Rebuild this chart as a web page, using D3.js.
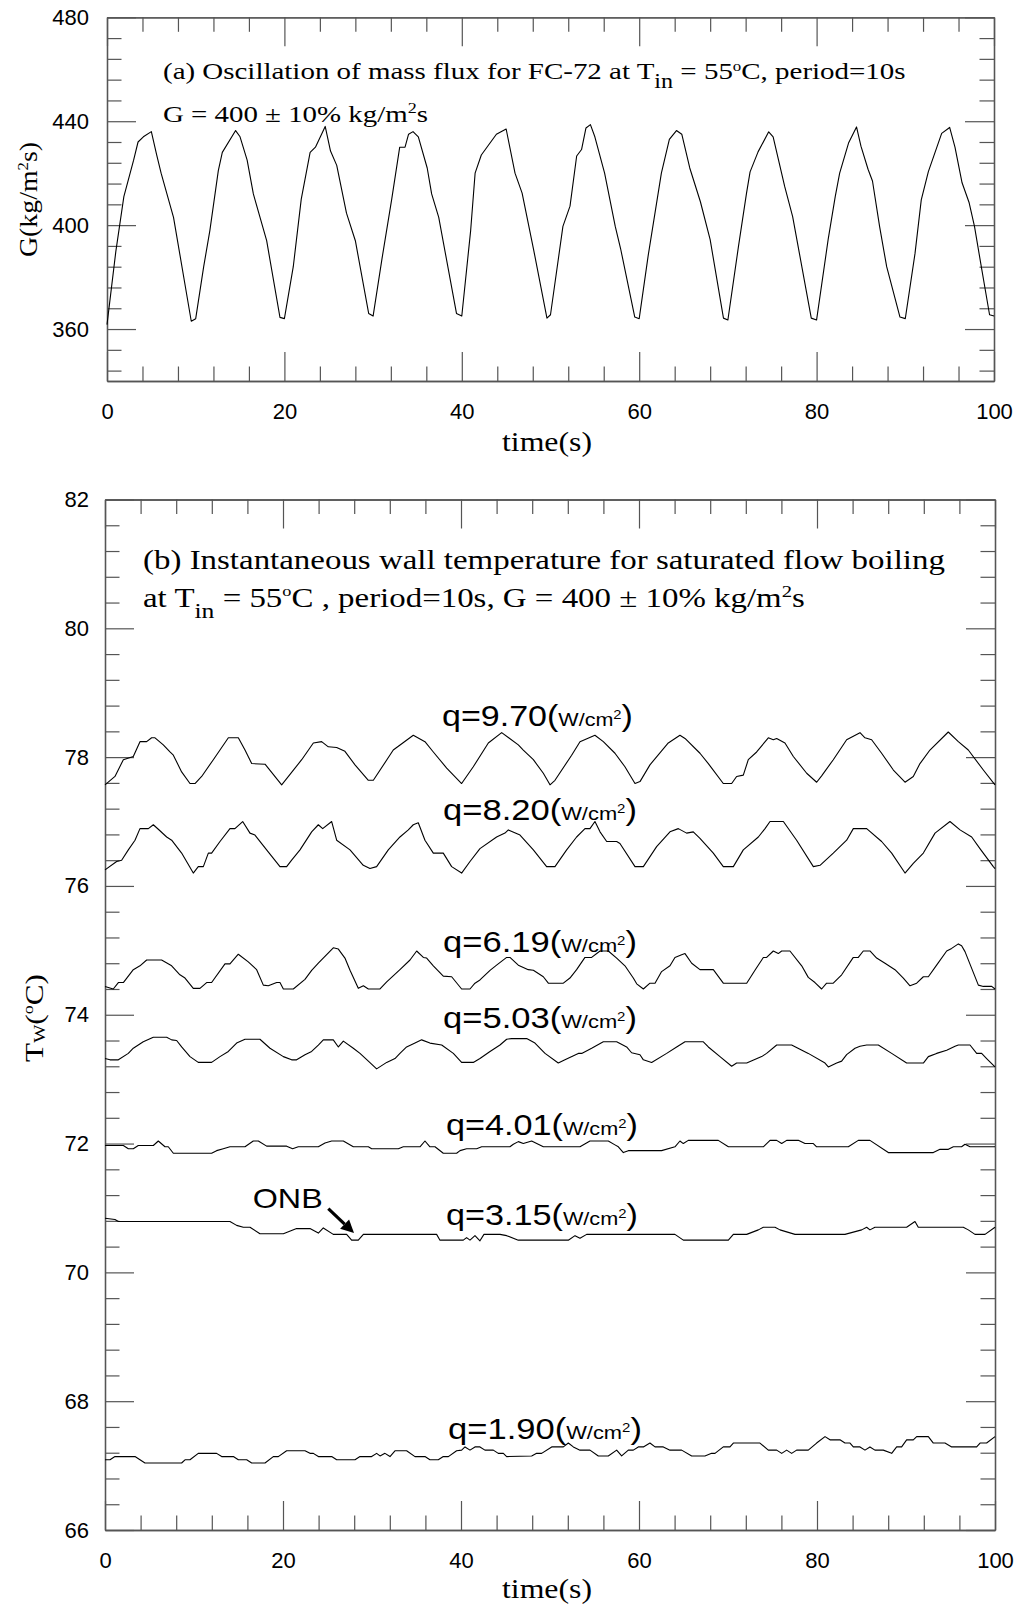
<!DOCTYPE html>
<html><head><meta charset="utf-8">
<script src="https://cdn.jsdelivr.net/npm/d3@7"></script>
<style>
html,body{margin:0;padding:0;background:#fff;}
svg{display:block;}
text{white-space:pre;}
</style></head><body>
<svg id="chart" width="1019" height="1607"></svg>
<script>
// ---------- tick values ----------
const timeTicks = [0, 20, 40, 60, 80, 100];
const gTicks = [360, 400, 440, 480];
const twTicks = [66, 68, 70, 72, 74, 76, 78, 80, 82];

// ---------- (a) mass flux G (kg/m2s) vs time (s) ----------
const massFlux = [
[0,361.7],[1.0,390],[1.9,411],[3.0,425],[3.5,432],[4.1,434],[5.0,436],[5.6,427],[6.1,420],[7.5,403],[9.5,363],[10.0,364],
[10.9,384],[11.6,398],[12.55,421],[13.0,428],[14.5,436.4],[15.0,434],[15.8,425],[16.5,412],[18.0,394],[19.5,364.5],[20.0,364],
[21.0,384],[21.9,410],[22.9,428],[23.5,430],[24.6,438],[25.2,428.5],[25.9,423],[27.0,404.6],[28.0,394],[29.5,366],[30.0,365],
[31.0,387],[32.1,410],[33.0,430],[33.6,430],[34.0,435],[34.5,436],[35.1,434],[36.1,422],[36.6,412],[37.4,403],[39.4,366],[40.0,365],
[41.0,398],[41.5,420],[42.2,427],[43.9,435],[45.0,437],[46.0,420],[46.8,412.3],[48.1,390.5],[49.6,364.2],[50.0,365.5],
[51.4,399.5],[52.2,407.3],[52.95,426.6],[53.5,429.1],[54.0,437.4],[54.5,438.7],[55.0,434],[56.1,420],[57.3,399.5],[57.9,391],[59.5,364.6],[60.0,364],
[61.0,388],[62.5,420],[63.4,433],[64.2,436.4],[64.8,435],[65.7,422],[66.9,409],[68.0,394.4],[69.5,364.2],[70.0,363.5],
[71.2,392],[72.1,412.3],[72.5,420.5],[73.4,428.2],[74.6,435.9],[75.1,434],[76.4,414.9],[77.3,403.3],[79.4,364.2],[80.0,363.5],
[81.3,394.4],[82.1,411],[82.6,420],[83.6,431.6],[84.5,437.8],[85.0,430.4],[85.8,421.5],[86.3,417],[87.1,399.5],[87.9,384],[89.4,364.6],[90.0,364],
[91.1,389.2],[91.8,409.7],[92.6,420.6],[94.1,435.3],[95.0,437.6],[95.6,430],[96.4,416.3],[97.2,408.6],[97.8,399.5],[98.5,385.4],[99.5,365.5],[100,365]
];

// ---------- (b) wall temperature Tw (oC) vs time (s), one array per heat flux ----------
const q970 = [[0,77.57],[1.12,77.70],[2.06,77.96],[3.18,78.01],[3.93,78.24],[4.68,78.24],[5.24,78.30],[5.62,78.30],[6.55,78.19],[7.3,78.08],[7.68,78.03],[8.61,77.77],[9.55,77.59],[10.11,77.59],[10.86,77.70],[12.17,77.96],[13.86,78.30],[14.98,78.30],[15.73,78.11],[16.48,77.90],[17.98,77.89],[19.85,77.57],[22.1,77.96],[23.41,78.22],[24.34,78.24],[25.09,78.16],[26.03,78.15],[26.96,78.09],[28.09,77.88],[29.59,77.64],[30.15,77.64],[32.39,78.11],[34.64,78.34],[35.95,78.24],[36.89,78.08],[38.39,77.83],[40.07,77.59],[41.38,77.85],[43.07,78.22],[44.57,78.38],[46.44,78.19],[47.0,78.11],[48.13,77.96],[49.25,77.75],[50.0,77.57],[50.56,77.64],[52.43,78.03],[53.37,78.24],[55.05,78.34],[55.99,78.24],[57.3,78.06],[58.42,77.85],[59.55,77.59],[60.11,77.62],[61.23,77.88],[63.29,78.22],[64.6,78.34],[65.17,78.29],[66.85,78.06],[67.79,77.90],[69.47,77.59],[70.41,77.59],[70.97,77.70],[71.72,77.72],[72.28,77.96],[73.22,78.08],[74.53,78.30],[75.09,78.27],[75.47,78.29],[76.4,78.22],[77.34,78.01],[78.84,77.75],[79.96,77.61],[80.52,77.71],[81.83,77.96],[83.33,78.27],[84.83,78.38],[85.39,78.30],[86.14,78.27],[87.26,78.06],[88.58,77.80],[89.89,77.61],[90.82,77.70],[91.57,77.90],[92.69,78.11],[94.75,78.39],[95.88,78.24],[97.0,78.11],[98.69,77.80],[100,77.57]];
const q820 = [[0,76.25],[1.31,76.38],[1.87,76.40],[2.62,76.56],[3.37,76.71],[3.93,76.89],[4.87,76.89],[5.43,76.95],[5.99,76.88],[6.93,76.76],[7.49,76.71],[8.61,76.51],[9.92,76.20],[10.48,76.30],[11.05,76.30],[11.61,76.51],[11.98,76.51],[12.92,76.69],[14.04,76.89],[14.6,76.89],[15.47,77.0],[16.29,76.82],[16.85,76.79],[18.16,76.56],[19.66,76.30],[20.41,76.30],[20.97,76.40],[21.91,76.56],[23.22,76.84],[23.97,76.95],[24.46,76.89],[25.47,77.0],[26.03,76.71],[27.53,76.56],[29.02,76.32],[29.77,76.27],[30.52,76.30],[31.83,76.56],[33.14,76.76],[34.08,76.87],[34.64,76.95],[35.2,76.98],[35.95,76.71],[36.89,76.51],[38.01,76.51],[38.95,76.30],[40.07,76.20],[41.01,76.38],[42.13,76.58],[44.0,76.76],[44.94,76.82],[45.32,76.87],[46.63,76.79],[48.13,76.56],[49.62,76.30],[50.56,76.30],[51.87,76.56],[52.99,76.76],[53.93,76.89],[54.49,76.89],[55.05,77.0],[55.62,76.84],[56.37,76.69],[57.49,76.69],[57.86,76.66],[59.55,76.30],[60.49,76.30],[61.98,76.61],[63.48,76.84],[64.42,76.89],[65.35,76.82],[66.1,76.84],[66.85,76.74],[68.35,76.51],[69.47,76.30],[70.6,76.30],[71.72,76.56],[73.41,76.76],[74.16,76.89],[74.72,77.0],[76.22,77.0],[77.71,76.71],[79.59,76.30],[80.34,76.32],[81.83,76.51],[83.33,76.71],[84.08,76.89],[85.58,76.89],[87.26,76.69],[88.39,76.51],[89.89,76.20],[90.82,76.35],[91.95,76.51],[93.26,76.82],[94.94,77.0],[96.07,76.87],[97.38,76.76],[98.31,76.58],[99.81,76.30],[100,76.27]];
const q619 = [[0,74.44],[0.93,74.40],[1.5,74.50],[2.06,74.50],[3.18,74.70],[3.93,74.76],[4.68,74.85],[6.36,74.85],[7.49,74.76],[8.42,74.62],[8.99,74.57],[9.92,74.41],[10.67,74.41],[11.42,74.50],[11.98,74.50],[13.48,74.79],[14.04,74.79],[14.98,74.94],[16.1,74.82],[17.04,74.70],[17.79,74.46],[18.35,74.45],[19.29,74.50],[19.66,74.50],[20.04,74.40],[21.16,74.40],[22.47,74.55],[23.22,74.69],[23.97,74.80],[25.65,75.04],[26.22,75.02],[26.96,74.88],[27.53,74.69],[28.46,74.41],[29.03,74.45],[29.59,74.40],[30.9,74.40],[31.65,74.51],[33.14,74.70],[34.27,74.85],[35.02,74.99],[35.77,74.89],[36.14,74.88],[36.89,74.76],[38.01,74.60],[38.95,74.59],[40.07,74.40],[41.01,74.40],[41.57,74.49],[42.13,74.54],[43.26,74.69],[44.0,74.77],[45.13,74.89],[45.5,74.89],[46.44,74.77],[47.56,74.70],[48.13,74.69],[49.25,74.59],[49.81,74.49],[51.5,74.49],[52.24,74.57],[52.99,74.70],[53.93,74.89],[54.68,74.89],[55.62,74.99],[56.55,74.99],[57.49,74.88],[58.42,74.76],[59.36,74.57],[59.74,74.48],[60.49,74.40],[61.23,74.49],[61.8,74.49],[62.54,74.67],[63.48,74.76],[64.04,74.89],[64.79,74.93],[65.17,74.95],[65.92,74.80],[66.85,74.70],[68.35,74.70],[69.47,74.49],[72.1,74.49],[73.03,74.69],[73.97,74.89],[74.34,74.89],[75.09,74.99],[75.65,74.95],[76.03,74.99],[76.96,74.99],[78.28,74.76],[79.02,74.58],[79.77,74.50],[80.52,74.40],[81.08,74.49],[81.83,74.49],[82.77,74.62],[84.08,74.89],[84.64,74.89],[85.2,74.99],[85.95,74.99],[86.7,74.88],[87.64,74.80],[88.76,74.70],[89.7,74.57],[90.45,74.45],[91.2,74.49],[91.95,74.59],[92.51,74.59],[93.44,74.77],[94.57,74.99],[95.13,75.03],[95.88,75.10],[96.25,75.07],[96.63,74.98],[97.38,74.72],[98.13,74.46],[98.69,74.44],[99.63,74.44],[100,74.40]];
const q503 = [[0,73.32],[0.56,73.30],[1.5,73.30],[2.62,73.40],[3.18,73.48],[4.3,73.58],[5.43,73.65],[6.93,73.65],[7.49,73.61],[8.05,73.60],[8.61,73.50],[9.55,73.35],[10.48,73.26],[11.98,73.26],[12.92,73.35],[13.86,73.43],[14.79,73.56],[15.73,73.62],[17.41,73.62],[18.54,73.48],[20.04,73.35],[20.97,73.30],[21.53,73.30],[22.47,73.38],[23.22,73.43],[23.97,73.53],[24.53,73.61],[25.65,73.61],[26.22,73.50],[26.78,73.59],[27.9,73.48],[28.65,73.40],[29.59,73.28],[30.52,73.16],[31.65,73.26],[32.58,73.32],[33.14,73.40],[33.89,73.50],[34.83,73.56],[35.58,73.61],[36.51,73.56],[37.83,73.53],[39.14,73.40],[40.07,73.26],[41.38,73.26],[42.13,73.32],[43.26,73.43],[44.38,73.53],[45.13,73.62],[45.69,73.63],[47.38,73.63],[48.31,73.56],[49.44,73.40],[50.93,73.25],[51.68,73.30],[53.18,73.40],[53.56,73.40],[54.68,73.48],[55.99,73.58],[57.49,73.58],[58.61,73.50],[59.17,73.41],[60.11,73.38],[60.49,73.30],[61.42,73.26],[63.11,73.40],[64.23,73.50],[65.17,73.58],[67.23,73.58],[67.79,73.50],[69.1,73.35],[70.41,73.20],[70.97,73.25],[72.1,73.25],[73.78,73.35],[74.34,73.40],[75.47,73.53],[77.15,73.53],[79.02,73.40],[80.9,73.25],[81.27,73.19],[82.21,73.25],[82.77,73.28],[83.33,73.38],[84.27,73.48],[84.83,73.51],[85.58,73.53],[86.89,73.53],[88.39,73.40],[90.07,73.25],[91.95,73.25],[92.51,73.35],[93.44,73.40],[94.57,73.45],[95.51,73.51],[95.88,73.53],[97.19,73.53],[97.94,73.40],[98.5,73.40],[99.06,73.32],[100,73.19]];
const q401 = [[0,71.97],[2.06,71.97],[2.62,71.92],[3.18,71.92],[3.74,71.97],[5.43,71.97],[5.99,72.04],[6.74,71.95],[7.11,71.95],[7.68,71.85],[11.98,71.85],[12.54,71.89],[13.29,71.92],[14.04,71.95],[15.73,71.95],[16.66,72.04],[17.23,72.04],[18.16,71.96],[20.41,71.96],[21.08,71.92],[21.72,71.95],[23.97,71.95],[24.72,72.01],[25.47,72.04],[26.78,72.04],[27.9,71.95],[29.59,71.95],[29.96,71.92],[32.96,71.92],[33.52,71.95],[35.39,71.95],[35.95,72.04],[36.51,71.95],[37.08,71.95],[38.01,71.85],[39.51,71.85],[39.89,71.89],[40.63,71.92],[41.76,71.92],[42.32,71.95],[45.5,71.95],[45.88,71.99],[46.44,72.03],[47.0,72.0],[47.94,72.04],[49.25,71.95],[53.37,71.95],[54.49,72.04],[56.55,72.04],[57.3,71.98],[57.68,71.95],[58.24,71.86],[58.8,71.89],[62.54,71.89],[64.04,71.95],[64.6,72.04],[64.98,72.0],[65.54,72.05],[68.91,72.05],[70.04,71.95],[73.97,71.95],[74.72,72.05],[75.47,72.05],[76.03,72.0],[76.59,72.05],[77.9,72.05],[78.65,72.0],[79.59,72.0],[79.96,71.95],[83.52,71.95],[84.64,72.05],[85.95,72.05],[88.01,71.86],[93.07,71.86],[93.82,71.91],[94.76,71.91],[95.32,71.95],[96.25,71.95],[96.63,71.99],[97.19,71.95],[100,71.95]];
const q315 = [[0,70.84],[1.12,70.82],[1.5,70.79],[14.04,70.79],[14.79,70.73],[15.54,70.70],[16.29,70.70],[17.41,70.60],[20.04,70.60],[21.53,70.68],[23.03,70.68],[23.97,70.61],[24.53,70.69],[25.65,70.59],[27.15,70.59],[27.71,70.50],[28.46,70.50],[29.03,70.59],[37.26,70.59],[37.64,70.50],[40.26,70.50],[40.63,70.54],[41.01,70.50],[41.57,70.57],[42.13,70.49],[42.58,70.59],[44.38,70.59],[45.13,70.57],[46.44,70.50],[52.06,70.50],[52.81,70.57],[53.37,70.53],[54.12,70.59],[64.04,70.59],[64.98,70.50],[70.04,70.50],[70.6,70.59],[72.1,70.59],[73.41,70.66],[73.97,70.70],[75.28,70.70],[75.84,70.66],[77.53,70.59],[83.14,70.59],[85.02,70.66],[85.58,70.70],[85.95,70.66],[86.51,70.70],[90.07,70.70],[91.01,70.79],[91.38,70.70],[96.44,70.70],[97.0,70.66],[97.75,70.59],[98.88,70.59],[100,70.70]];
const q190 = [[0,67.09],[0.56,67.09],[1.12,67.14],[3.37,67.14],[4.49,67.04],[8.61,67.04],[8.99,67.09],[9.55,67.09],[10.48,67.19],[12.54,67.19],[13.11,67.14],[14.42,67.14],[14.98,67.09],[15.92,67.09],[16.48,67.04],[17.98,67.04],[18.91,67.14],[19.47,67.14],[20.41,67.23],[22.47,67.23],[23.03,67.19],[23.41,67.19],[23.97,67.14],[25.47,67.14],[26.03,67.09],[28.09,67.09],[28.65,67.14],[29.96,67.14],[30.52,67.19],[30.9,67.15],[31.46,67.19],[32.02,67.14],[32.58,67.23],[33.89,67.23],[34.83,67.14],[35.95,67.14],[36.51,67.09],[37.45,67.09],[38.01,67.14],[38.58,67.14],[39.51,67.23],[40.07,67.24],[40.45,67.29],[41.01,67.24],[41.57,67.29],[42.13,67.29],[42.69,67.24],[43.63,67.24],[44.19,67.19],[44.76,67.19],[45.13,67.14],[47.94,67.15],[48.5,67.19],[49.06,67.19],[50.19,67.29],[51.5,67.29],[52.06,67.35],[52.62,67.29],[53.37,67.24],[54.49,67.24],[55.43,67.15],[56.55,67.15],[57.49,67.24],[58.05,67.15],[58.8,67.24],[59.36,67.24],[59.92,67.29],[60.49,67.29],[61.23,67.35],[61.8,67.29],[62.73,67.29],[63.48,67.24],[64.79,67.24],[65.92,67.15],[67.41,67.15],[68.16,67.19],[68.54,67.19],[69.47,67.29],[70.22,67.29],[70.6,67.35],[73.59,67.35],[74.53,67.24],[75.47,67.24],[76.03,67.19],[76.59,67.24],[77.15,67.19],[77.71,67.24],[79.02,67.24],[79.96,67.35],[80.9,67.45],[81.46,67.40],[82.58,67.40],[83.14,67.35],[83.71,67.35],[84.08,67.29],[84.83,67.29],[85.39,67.24],[85.95,67.29],[86.51,67.24],[87.45,67.24],[88.39,67.19],[88.95,67.29],[89.51,67.29],[90.07,67.40],[90.82,67.40],[91.2,67.45],[92.51,67.45],[93.07,67.35],[94.38,67.35],[95.13,67.29],[97.94,67.29],[98.32,67.35],[99.06,67.35],[100,67.45]];

const heatFluxSeries = [q970, q820, q619, q503, q401, q315, q190];
const heatFluxLabels = ["9.70", "8.20", "6.19", "5.03", "4.01", "3.15", "1.90"];

// ---------- layout (not data) ----------
const svg = d3.select("#chart");
const boxA = {l:107, r:994, t:17.3, b:381};
const boxB = {l:105, r:995, t:499.5, b:1530};
const xA = d3.scaleLinear().domain([0,100]).range([boxA.l, boxA.r]);
const yA = d3.scaleLinear().domain([340,480]).range([boxA.b, boxA.t]);
const xB = d3.scaleLinear().domain([0,100]).range([boxB.l, boxB.r]);
const yB = d3.scaleLinear().domain([66,82]).range([boxB.b, boxB.t]);

const SANS = "'Liberation Sans', Arial, sans-serif";
const SERIF = "'Liberation Serif', 'Times New Roman', serif";
const AXC = "#555";

function styleAxis(g) {
  g.selectAll("path.domain").attr("stroke", AXC).attr("stroke-width", 1.3);
  g.selectAll(".tick line").attr("stroke", AXC).attr("stroke-width", 1.2);
  g.selectAll("text").attr("fill", "#000").attr("font-family", SANS).attr("font-size", 22);
}

function frame(x, y, box, xMaj, xMin, yMaj, yMin, leftPad) {
  const MAJ = 29, MIN = 14.5;
  const gb = svg.append("g").attr("transform", `translate(0,${box.b})`);
  gb.call(d3.axisBottom(x).tickValues(xMaj).tickSizeInner(-MAJ).tickSizeOuter(0).tickPadding(22.5).tickFormat(d3.format("d")));
  styleAxis(gb);
  const gb2 = svg.append("g").attr("transform", `translate(0,${box.b})`);
  gb2.call(d3.axisBottom(x).tickValues(xMin).tickSizeInner(-MIN).tickSizeOuter(0).tickFormat(""));
  styleAxis(gb2);
  const gt = svg.append("g").attr("transform", `translate(0,${box.t})`);
  gt.call(d3.axisTop(x).tickValues(xMaj).tickSizeInner(-MAJ).tickSizeOuter(0).tickFormat(""));
  styleAxis(gt);
  const gt2 = svg.append("g").attr("transform", `translate(0,${box.t})`);
  gt2.call(d3.axisTop(x).tickValues(xMin).tickSizeInner(-MIN).tickSizeOuter(0).tickFormat(""));
  styleAxis(gt2);
  const gl = svg.append("g").attr("transform", `translate(${box.l},0)`);
  gl.call(d3.axisLeft(y).tickValues(yMaj).tickSizeInner(-MAJ).tickSizeOuter(0).tickPadding(leftPad).tickFormat(d3.format("d")));
  styleAxis(gl);
  const gl2 = svg.append("g").attr("transform", `translate(${box.l},0)`);
  gl2.call(d3.axisLeft(y).tickValues(yMin).tickSizeInner(-MIN).tickSizeOuter(0).tickFormat(""));
  styleAxis(gl2);
  const gr = svg.append("g").attr("transform", `translate(${box.r},0)`);
  gr.call(d3.axisRight(y).tickValues(yMaj).tickSizeInner(-MAJ).tickSizeOuter(0).tickFormat(""));
  styleAxis(gr);
  const gr2 = svg.append("g").attr("transform", `translate(${box.r},0)`);
  gr2.call(d3.axisRight(y).tickValues(yMin).tickSizeInner(-MIN).tickSizeOuter(0).tickFormat(""));
  styleAxis(gr2);
}

const xMinor = d3.range(0, 26).filter(i => i % 5 !== 0).map(i => i * 4);
const gMinor = d3.range(344, 480, 8).filter(v => (v - 360) % 40 !== 0);
const twMinor = d3.range(0, 41).filter(i => i % 5 !== 0).map(i => +(66 + i * 0.4).toFixed(2));

frame(xA, yA, boxA, timeTicks, xMinor, gTicks, gMinor, 18);
frame(xB, yB, boxB, timeTicks, xMinor, twTicks, twMinor, 16);

// ---------- data lines ----------
const lineA = d3.line().x(d => xA(d[0])).y(d => yA(d[1]));
svg.append("path").datum(massFlux).attr("d", lineA)
  .attr("fill", "none").attr("stroke", "#000").attr("stroke-width", 1.1).attr("stroke-linejoin", "round");

const lineB = d3.line().x(d => xB(d[0])).y(d => yB(d[1]));
svg.append("g").selectAll("path").data(heatFluxSeries).join("path").attr("d", lineB)
  .attr("fill", "none").attr("stroke", "#000").attr("stroke-width", 1.1).attr("stroke-linejoin", "round");

// ---------- text helpers ----------
function fitted(x, y, targetW, rotate, anchor, font, size, build) {
  const g = svg.append("g");
  const t = g.append("text").attr("x", 0).attr("y", 0).attr("text-anchor", anchor)
    .attr("font-family", font).attr("font-size", size).attr("fill", "#000");
  build(t);
  const w = t.node().getComputedTextLength();
  const s = targetW / w;
  g.attr("transform", `translate(${x},${y})` + (rotate ? ` rotate(${rotate})` : "") + ` scale(${s},1)`);
  return g;
}
function ts(t, txt, size, dy) {
  const s = t.append("tspan").text(txt);
  if (size) s.attr("font-size", size);
  if (dy) s.attr("dy", dy);
  return s;
}

// titles
fitted(163, 79, 743, 0, "start", SERIF, 24, t => {
  ts(t, "(a) Oscillation of mass flux for FC-72 at T");
  ts(t, "in", 20, 9);
  ts(t, " = 55", null, -9);
  ts(t, "o", 14, -8);
  ts(t, "C, period=10s", null, 8);
});
fitted(163, 122, 265, 0, "start", SERIF, 24, t => {
  ts(t, "G = 400 \u00B1 10% kg/m");
  ts(t, "2", 15, -9);
  ts(t, "s", null, 9);
});
fitted(143, 569, 802, 0, "start", SERIF, 27, t => {
  ts(t, "(b) Instantaneous wall temperature for saturated flow boiling");
});
fitted(143, 607, 662, 0, "start", SERIF, 27, t => {
  ts(t, "at T");
  ts(t, "in", 21, 11);
  ts(t, " = 55", null, -11);
  ts(t, "o", 15, -11);
  ts(t, "C , period=10s, G = 400 \u00B1 10% kg/m", null, 11);
  ts(t, "2", 17, -10);
  ts(t, "s", null, 10);
});

// axis titles
fitted(37, 199.5, 115, -90, "middle", SERIF, 25, t => {
  ts(t, "G(kg/m");
  ts(t, "2", 15, -9);
  ts(t, "s)", null, 9);
});
fitted(43, 1018, 88, -90, "middle", SERIF, 26, t => {
  ts(t, "T");
  ts(t, "W", 16, 2);
  ts(t, "(", null, -2);
  ts(t, "o", 15, -10);
  ts(t, "C)", null, 10);
});
fitted(547, 451, 90, 0, "middle", SERIF, 27, t => { ts(t, "time(s)"); });
fitted(547, 1598, 90, 0, "middle", SERIF, 27, t => { ts(t, "time(s)"); });

// heat-flux labels (anchor positions in data units of panel b)
const qLabelAt = [[37.87,78.48,191],[37.98,77.02,194],[37.98,74.98,194],[37.98,73.79,194],[38.31,72.13,192],[38.31,70.73,192],[38.54,67.42,194]];
heatFluxLabels.forEach((lab, i) => {
  const [t0, T0, w] = qLabelAt[i];
  fitted(xB(t0), yB(T0), w, 0, "start", SANS, 30, t => {
    ts(t, "q=" + lab + "(");
    ts(t, "W/cm", 19);
    ts(t, "2", 13, -7);
    ts(t, ")", 30, 7);
  });
});

// ONB annotation
fitted(xB(16.6), yB(71.0), 70, 0, "start", SANS, 28, t => { ts(t, "ONB"); });
(function arrow() {
  const x0 = xB(25.09), y0 = yB(70.99), x1 = xB(27.98), y1 = yB(70.61);
  const ang = Math.atan2(y1 - y0, x1 - x0);
  const L = 13, W = 6.5;
  const bx = x1 - L * Math.cos(ang), by = y1 - L * Math.sin(ang);
  svg.append("line").attr("x1", x0).attr("y1", y0).attr("x2", bx).attr("y2", by)
    .attr("stroke", "#000").attr("stroke-width", 3.2);
  const px = -Math.sin(ang) * W, py = Math.cos(ang) * W;
  svg.append("path").attr("d", `M${x1},${y1}L${bx + px},${by + py}L${bx - px},${by - py}Z`).attr("fill", "#000");
})();
</script>
</body></html>
